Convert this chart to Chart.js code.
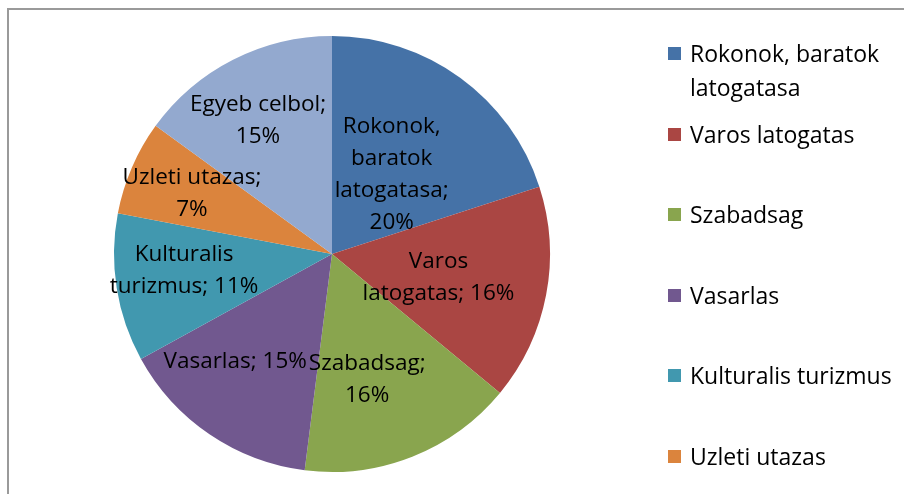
<!DOCTYPE html>
<html>
<head>
<meta charset="utf-8">
<script src="https://cdn.jsdelivr.net/npm/chart.js@4"></script>
<style>
	body { margin: 0; background: #fff; overflow: hidden; }
	#wrap { position: relative; width: 904px; height: 494px; }
	#frame { position: absolute; left: 7px; top: 8px; width: 920px; height: 520px; border-left: 2px solid #9a9a9a; border-top: 2px solid #9a9a9a; }
	#legend { position: absolute; left: 0; top: 0; font-family: "Open Sans", sans-serif; font-size: 23px; color: #000; }
	.item { position: absolute; left: 668px; width: 236px; line-height: 34px; }
	.box { position: absolute; left: 0; top: 11px; width: 13px; height: 13px; }
	.txt { position: absolute; left: 22px; width: 212px; white-space: normal; }
</style>
</head>
<body>
<div id="wrap">
	<div id="frame"></div>
	<canvas id="pie" width="904" height="494"></canvas>
	<div id="legend"></div>
</div>
<script>
const labels = ['Rokonok, baratok latogatasa', 'Varos latogatas', 'Szabadsag', 'Vasarlas', 'Kulturalis turizmus', 'Uzleti utazas', 'Egyeb celbol'];
const values = [20, 16, 16, 15, 11, 7, 15];
const colors = ['#4572A7', '#AA4643', '#89A54E', '#71588F', '#4198AF', '#DB843D', '#93A9CF'];

// label placement: share of radius from centre, and turn in degrees off the slice middle
const labelDepth = [0.455, 0.5, 0.6, 0.665, 0.683, 0.7, 0.7];
const labelTurn = [1, 1.5, 6, 7.7, 2.5, 0, -2];

const total = values.reduce((a, b) => a + b, 0);

function wrapText(ctx, text, maxW) {
	const words = text.split(' ');
	const lines = [];
	let line = '';
	words.forEach(w => {
		const test = line ? line + ' ' + w : w;
		if (line && ctx.measureText(test).width > maxW) {
			lines.push(line);
			line = w;
		} else {
			line = test;
		}
	});
	lines.push(line);
	return lines;
}

const sliceLabels = {
	id: 'sliceLabels',
	afterDatasetsDraw(chart) {
		const ctx = chart.ctx;
		const meta = chart.getDatasetMeta(0);
		ctx.save();
		ctx.font = '22.5px "Open Sans", sans-serif';
		ctx.fillStyle = '#000';
		ctx.textAlign = 'center';
		ctx.textBaseline = 'middle';
		meta.data.forEach((arc, i) => {
			const mid = (arc.startAngle + arc.endAngle) / 2 + labelTurn[i] * Math.PI / 180;
			const r = arc.outerRadius * labelDepth[i];
			const x = arc.x + Math.cos(mid) * r;
			const y = arc.y + Math.sin(mid) * r;
			const pct = Math.round(values[i] / total * 100) + '%';
			const lines = wrapText(ctx, labels[i] + '; ' + pct, 163);
			const lh = 32;
			lines.forEach((l, k) => {
				ctx.fillText(l, x, y + (k - (lines.length - 1) / 2) * lh);
			});
		});
		ctx.restore();
	}
};

new Chart(document.getElementById('pie').getContext('2d'), {
	type: 'pie',
	data: {
		labels: labels,
		datasets: [
			{
				data: values,
				backgroundColor: colors,
				borderWidth: 0
			}
		]
	},
	options: {
		responsive: false,
		animation: false,
		layout: { padding: { left: 114, top: 36, right: 354, bottom: 22 } },
		plugins: {
			legend: { display: false },
			tooltip: { enabled: false }
		}
	},
	plugins: [sliceLabels]
});

// legend on the right
const legend = document.getElementById('legend');
labels.forEach((name, i) => {
	const item = document.createElement('div');
	item.className = 'item';
	item.style.top = (36 + i * 80.6) + 'px';
	item.innerHTML = '<div class="box" style="background:' + colors[i] + '"></div><div class="txt">' + name + '</div>';
	legend.appendChild(item);
});
</script>
</body>
</html>
